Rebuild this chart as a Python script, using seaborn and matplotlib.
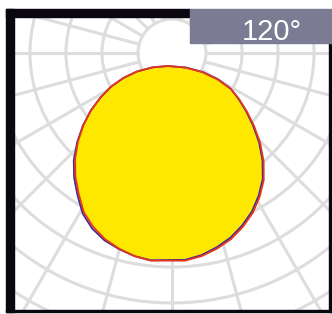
import numpy as np
import matplotlib
matplotlib.use('Agg')
import matplotlib.pyplot as plt
import seaborn as sns
from matplotlib.patches import Circle, Rectangle

sns.set_style('white')
plt.rcParams['font.family'] = ['Liberation Sans', 'DejaVu Sans']

# light distribution, angle from the beam axis (deg), relative intensity
ANGLES = list(range(-90, 95, 5))
RED = [0.00, 0.08, 0.16, 0.235, 0.31, 0.38, 0.455, 0.527, 0.60, 0.67, 0.735, 0.795,
       0.86, 0.905, 0.94, 0.965, 0.985, 0.997, 0.993, 0.997, 0.985, 0.965, 0.94,
       0.905, 0.865, 0.815, 0.76, 0.69, 0.615, 0.537, 0.465, 0.40, 0.34, 0.26,
       0.175, 0.088, 0.00]
BLUE = [0.00, 0.08, 0.16, 0.235, 0.31, 0.38, 0.455, 0.53, 0.605, 0.68, 0.745, 0.805,
        0.87, 0.915, 0.947, 0.967, 0.985, 0.995, 0.99, 0.993, 0.98, 0.958, 0.932,
        0.897, 0.857, 0.807, 0.752, 0.682, 0.607, 0.53, 0.46, 0.397, 0.342, 0.265,
        0.183, 0.095, 0.00]
BEAM_LABEL = '120°'

W, H = 332, 314
fig = plt.figure(figsize=(W / 100, H / 100), dpi=100)
ax = fig.add_axes([0, 0, 1, 1])
ax.set_xlim(0, W)
ax.set_ylim(H, 0)
ax.axis('off')

# polar grid behind the curve
gx, gy = 172, 53
clip = Rectangle((14, 17), 315, 294, transform=ax.transData)
grid_kw = dict(color='#dddddd', lw=2.2, zorder=1)
for r in range(34, 340, 36):
    c = Circle((gx, gy), r, fill=False, **grid_kw)
    ax.add_patch(c)
    c.set_clip_path(clip)
for a in range(0, 360, 15):
    t = np.deg2rad(a)
    ln, = ax.plot([gx + 34 * np.sin(t), gx + 400 * np.sin(t)],
                  [gy + 34 * np.cos(t), gy + 400 * np.cos(t)], **grid_kw)
    ln.set_clip_path(clip)

# frame
black = '#0a0710'
ax.add_patch(Rectangle((6, 9), 8, 303, color=black, zorder=5))
ax.add_patch(Rectangle((6, 9), 184, 8, color=black, zorder=5))
ax.add_patch(Rectangle((329, 43), 3, 269, color=black, zorder=5))
ax.add_patch(Rectangle((6, 310), 326, 2, color=black, zorder=5))

# beam angle label
ax.add_patch(Rectangle((190, 9), 142, 34, color='#7b7b94', zorder=5))
ax.text(271.5, 40.5, BEAM_LABEL, color='white', fontsize=21,
        ha='center', va='baseline', zorder=6)

# intensity curve in its own polar axes, origin at the source point
ox, oy, R = 168, 66, 196
rmax = 1.1
s = R * rmax
pax = fig.add_axes([(ox - s) / W, (H - oy - s) / H, 2 * s / W, 2 * s / H],
                   projection='polar')
pax.set_theta_zero_location('S')
pax.set_facecolor('none')
pax.axis('off')

theta = np.deg2rad(ANGLES)
pax.fill(theta, RED, color='#ffe800', lw=0)
sns.lineplot(x=theta, y=BLUE, ax=pax, color='#3b2a9c', linewidth=1.3,
             estimator=None, sort=False, legend=False)
sns.lineplot(x=theta, y=RED, ax=pax, color='#e8351e', linewidth=1.3,
             estimator=None, sort=False, legend=False)
pax.set_xlabel('')
pax.set_ylabel('')
pax.set_ylim(0, rmax)

fig.savefig('out.png', dpi=100)
